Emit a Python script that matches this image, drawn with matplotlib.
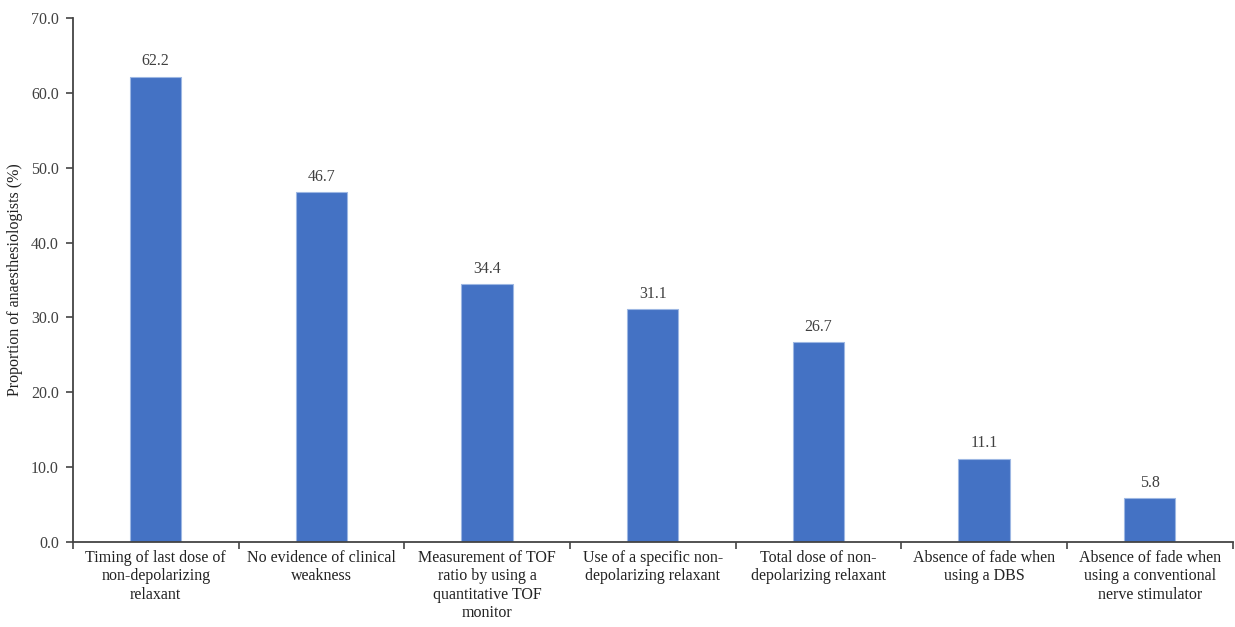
import matplotlib.pyplot as plt
from matplotlib.ticker import FixedLocator, NullFormatter

plt.rcParams['font.family'] = ['Liberation Serif', 'DejaVu Serif']

# data
categories = [
    "Timing of last dose of\nnon-depolarizing\nrelaxant",
    "No evidence of clinical\nweakness",
    "Measurement of TOF\nratio by using a\nquantitative TOF\nmonitor",
    "Use of a specific non-\ndepolarizing relaxant",
    "Total dose of non-\ndepolarizing relaxant",
    "Absence of fade when\nusing a DBS",
    "Absence of fade when\nusing a conventional\nnerve stimulator",
]
values = [62.2, 46.7, 34.4, 31.1, 26.7, 11.1, 5.8]
yticks = [0, 10, 20, 30, 40, 50, 60, 70]

fig = plt.figure(figsize=(12.35, 6.27), dpi=100)
ax = fig.add_axes([0.059, 0.136, 0.939, 0.835])

x = list(range(len(categories)))
bars = ax.bar(x, values, width=0.31, color='#4472C4', edgecolor='#9DB7E3', linewidth=0.8, zorder=2)

for xi, v in zip(x, values):
    ax.text(xi, v + 1.0, f"{v:.1f}", ha='center', va='bottom', fontsize=11.5, color='#404040')

ax.set_xlim(-0.5, len(categories) - 0.5)
ax.set_ylim(0, 70)
ax.set_yticks(yticks)
ax.set_yticklabels([f"{t:.1f}" for t in yticks], fontsize=11.5, color='#404040')
ax.set_ylabel("Proportion of anaesthesiologists (%)", fontsize=11.5, color='#222222', labelpad=6)

# category labels centred, tick marks between categories
ax.set_xticks(x)
ax.set_xticklabels(categories, fontsize=11.5, color='#222222', linespacing=1.2)
ax.tick_params(axis='x', length=0, pad=6)
ax.xaxis.set_minor_locator(FixedLocator([i - 0.5 for i in range(len(categories) + 1)]))
ax.xaxis.set_minor_formatter(NullFormatter())
ax.tick_params(axis='x', which='minor', length=5, width=1.2, color='#444444', direction='out')
ax.tick_params(axis='y', length=5, width=1.2, color='#444444', pad=5)

for s in ['top', 'right']:
    ax.spines[s].set_visible(False)
for s in ['left', 'bottom']:
    ax.spines[s].set_color('#444444')
    ax.spines[s].set_linewidth(1.3)

fig.savefig('out.png', dpi=100)
